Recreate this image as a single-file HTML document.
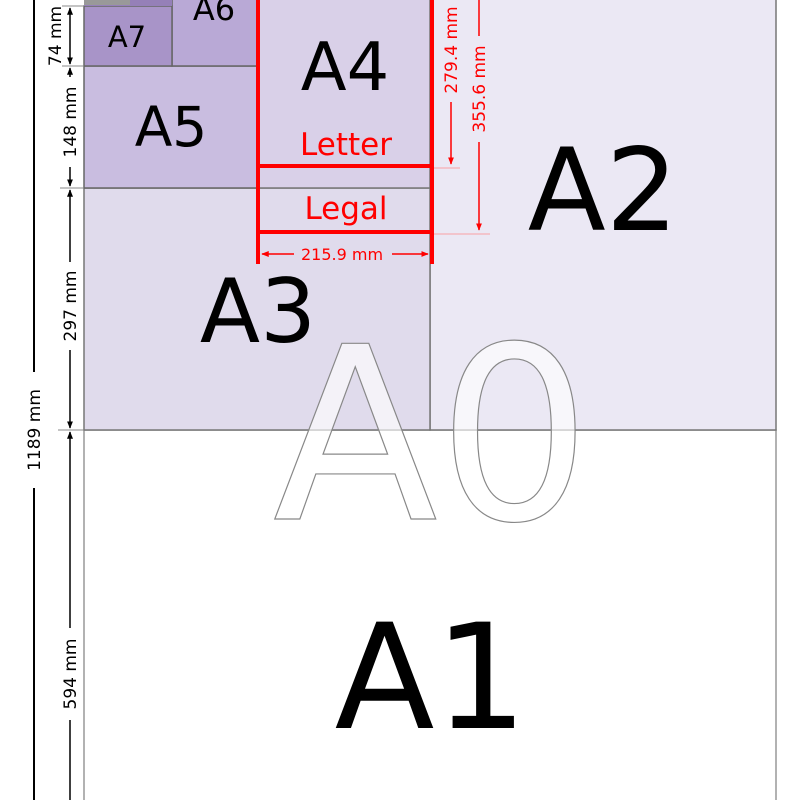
<!DOCTYPE html>
<html><head><meta charset="utf-8"><style>
html,body{margin:0;padding:0;background:#fff;}
svg{display:block;font-family:"DejaVu Sans","Liberation Sans",sans-serif;}
</style></head><body>
<svg width="800" height="800" viewBox="0 0 800 800" xmlns="http://www.w3.org/2000/svg">
<defs>
<marker id="ak" viewBox="0 0 10 10" refX="9" refY="5" markerWidth="5" markerHeight="5" orient="auto-start-reverse"><path d="M0,1 L10,5 L0,9 z" fill="#000"/></marker>
<marker id="ar" viewBox="0 0 10 10" refX="9" refY="5" markerWidth="5" markerHeight="5" orient="auto-start-reverse"><path d="M0,1 L10,5 L0,9 z" fill="#f00"/></marker>
</defs>
<rect width="800" height="800" fill="#fff"/>
<rect x="84" y="430" width="692" height="380" fill="#fff" stroke="#999" stroke-width="1.5"/>
<rect x="430" y="-5" width="346" height="435" fill="#ebe8f4" stroke="#777" stroke-width="1.5"/>
<rect x="84" y="188" width="346" height="242" fill="#e0dbec" stroke="#777" stroke-width="1.5"/>
<rect x="257" y="-5" width="173" height="193" fill="#d9d0e8" stroke="#777" stroke-width="1.5"/>
<rect x="84" y="66" width="173" height="122" fill="#c9bde0" stroke="#666" stroke-width="1.5"/>
<rect x="172" y="-5" width="85" height="71" fill="#b9a9d6" stroke="#666" stroke-width="1.5"/>
<rect x="84" y="6" width="88" height="60" fill="#a894c8" stroke="#666" stroke-width="1.5"/>
<rect x="84" y="-2" width="88" height="8" fill="#9580b8"/>
<rect x="84" y="-2" width="46" height="7" fill="#999"/>

<text x="127" y="47" font-size="29" text-anchor="middle">A7</text>
<text x="214" y="20" font-size="32" text-anchor="middle">A6</text>
<text x="171" y="146" font-size="55" text-anchor="middle">A5</text>
<text x="345" y="90" font-size="67" text-anchor="middle">A4</text>
<text x="258" y="342" font-size="88" text-anchor="middle">A3</text>
<text x="603" y="230" font-size="114" text-anchor="middle">A2</text>
<text x="431" y="728" font-size="146" text-anchor="middle">A1</text>
<text x="432" y="519" font-size="241" text-anchor="middle" fill="#fff" fill-opacity="0.65" stroke="#888" stroke-width="1.2">A0</text>

<g stroke="#f00" stroke-width="4" fill="none">
<line x1="258" y1="-2" x2="258" y2="264"/>
<line x1="432" y1="-2" x2="432" y2="264"/>
<line x1="258" y1="166" x2="432" y2="166"/>
<line x1="258" y1="232" x2="432" y2="232"/>
</g>
<text x="346" y="155" font-size="31" fill="#f00" text-anchor="middle">Letter</text>
<text x="346" y="219" font-size="31" fill="#f00" text-anchor="middle">Legal</text>
<g stroke="#f00" stroke-width="1.5">
<line x1="262" y1="254" x2="294" y2="254" marker-start="url(#ar)"/>
<line x1="392" y1="254" x2="428" y2="254" marker-end="url(#ar)"/>
<line x1="451" y1="102" x2="451" y2="164" marker-end="url(#ar)"/>
<line x1="479" y1="-2" x2="479" y2="36"/>
<line x1="479" y1="142" x2="479" y2="230" marker-end="url(#ar)"/>
</g>
<line x1="434" y1="168" x2="460" y2="168" stroke="#f88" stroke-width="0.8"/>
<line x1="434" y1="234" x2="490" y2="234" stroke="#f88" stroke-width="0.8"/>
<text x="342" y="260" font-size="16" fill="#f00" text-anchor="middle">215.9 mm</text>
<text transform="translate(457,50) rotate(-90)" font-size="17" fill="#f00" text-anchor="middle">279.4 mm</text>
<text transform="translate(485,89) rotate(-90)" font-size="17" fill="#f00" text-anchor="middle">355.6 mm</text>

<line x1="34" y1="-2" x2="34" y2="372" stroke="#000" stroke-width="2"/>
<line x1="34" y1="488" x2="34" y2="802" stroke="#000" stroke-width="2"/>
<text transform="translate(40,430) rotate(-90)" font-size="17" text-anchor="middle">1189 mm</text>
<g stroke="#888" stroke-width="1">
<line x1="62" y1="6" x2="84" y2="6"/>
<line x1="62" y1="66" x2="84" y2="66"/>
<line x1="60" y1="188" x2="84" y2="188"/>
<line x1="58" y1="430" x2="84" y2="430"/>
</g>
<g stroke="#000" stroke-width="1.5">
<line x1="70" y1="8" x2="70" y2="64" marker-start="url(#ak)" marker-end="url(#ak)"/>
<line x1="70" y1="68" x2="70" y2="77" marker-start="url(#ak)"/>
<line x1="70" y1="167" x2="70" y2="186" marker-end="url(#ak)"/>
<line x1="70" y1="190" x2="70" y2="262" marker-start="url(#ak)"/>
<line x1="70" y1="350" x2="70" y2="428" marker-end="url(#ak)"/>
<line x1="70" y1="432" x2="70" y2="628" marker-start="url(#ak)"/>
<line x1="70" y1="720" x2="70" y2="802"/>
</g>
<text transform="translate(61,36) rotate(-90)" font-size="17" text-anchor="middle">74 mm</text>
<text transform="translate(76,122) rotate(-90)" font-size="17" text-anchor="middle">148 mm</text>
<text transform="translate(76,306) rotate(-90)" font-size="17" text-anchor="middle">297 mm</text>
<text transform="translate(76,674) rotate(-90)" font-size="17" text-anchor="middle">594 mm</text>
</svg>
</body></html>
